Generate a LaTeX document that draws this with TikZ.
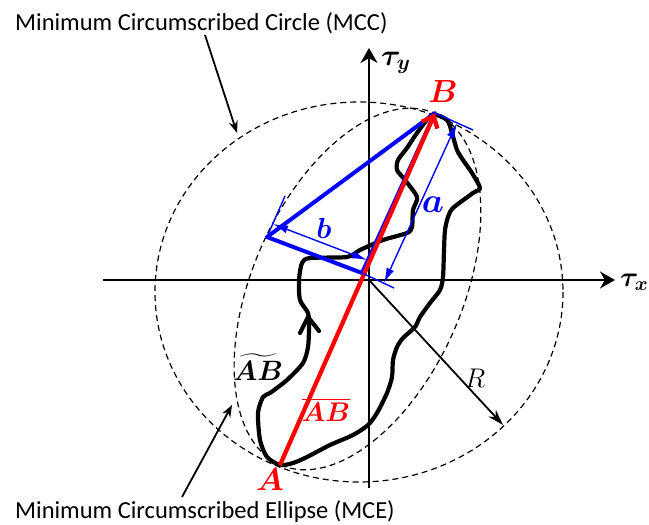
\RequirePackage{fix-cm}
\documentclass[tikz,border=0pt]{standalone}
\usepackage{amsmath}
\usepackage{fontspec}
\newfontfamily\calib{Carlito}
\usetikzlibrary{arrows.meta}
\begin{document}
\begin{tikzpicture}[x=1pt,y=-1pt,
  dashedc/.style={line width=1.2pt, dash pattern=on 6pt off 4pt},
  axis/.style={line width=2.3pt, -{Stealth[length=15pt,width=17pt]}},
  curve/.style={line width=4.2pt, line join=round, line cap=round},
  bluethick/.style={draw=blue, line width=4pt, line join=round},
  dim/.style={draw=blue, line width=1.4pt},
  dimarr/.style={dim, {Latex[length=15pt,width=8pt]}-{Latex[length=15pt,width=8pt]}},
  note/.style={font=\calib\fontsize{24.5}{28}\selectfont, inner sep=0, anchor=base west},
  pointer/.style={line width=1.8pt, -{Stealth[length=12pt,width=9pt]}},
  lbl/.style={inner sep=0}]
\useasboundingbox (0,0) rectangle (649,525);
% key points
\coordinate (O) at (369,280);
\coordinate (xl) at (103,280);
\coordinate (xr) at (615,280);
\coordinate (yb) at (369,488);
\coordinate (yt) at (369,48);
\coordinate (A) at (280,465);
\coordinate (B) at (435,113);
\coordinate (C) at (267,237);
\coordinate (D) at (362,273);
\coordinate (E) at (357.5,289);
\coordinate (Cc) at (359,292);
\coordinate (Rt) at (503,425);
% circle and ellipse
\draw[dashedc] (Cc) ellipse [x radius=204, y radius=190];
\draw[dashedc, rotate around={66.24:(E)}] (E) ellipse [x radius=192, y radius=105];
% axes
\draw[axis] (xl) -- (xr);
\draw[axis] (yb) -- (yt);
% R arrow
\draw[line width=1.8pt, -{Stealth[length=16pt,width=10pt]}] (O) -- (Rt);
% closed curve
\draw[curve] plot[smooth cycle, tension=0.45] coordinates {
 (280,465) (267,457) (260,440) (258,413) (263,397) (270,393) (287,380)
 (303,363) (308,347) (309,327) (308,313) (300,300) (299,280) (302,263)
 (310,258) (347,257) (360,250) (383,240) (407,233) (412,227) (413,210)
 (417,197) (405,180) (397,170) (398,160) (407,148) (417,133) (432,115)
 (447,120) (452,133) (457,150) (463,160) (472,173) (480,188) (473,193)
 (453,208) (448,217) (445,230) (444,250) (443,277) (440,290) (430,303)
 (420,317) (415,327) (403,338) (397,347) (393,360) (392,377) (387,393)
 (377,413) (368,425) (353,435) (330,445) (307,457) (293,463)};
\coordinate (ch0) at (308,317);
\coordinate (ch1) at (300,333);
\coordinate (ch2) at (319,331);
\draw[curve] (ch1) -- (ch0) -- (ch2);
% blue triangle
\draw[bluethick] (B) -- (C) -- (D) -- cycle;
% red chord
\draw[red, line width=4.3pt, -{Straight Barb[length=10pt,width=17pt]}] (A) -- (B);
% dimension lines
\coordinate (Ce) at (285,196);
\coordinate (Be) at (473,130);
\coordinate (De) at (394,288);
\coordinate (a1) at (384,283);
\coordinate (a2) at (457,123);
\coordinate (b1) at (273,224);
\coordinate (b2) at (367,260);
\draw[dim] (C) -- (Ce);
\draw[dim] (B) -- (Be);
\draw[dim] (D) -- (De);
\draw[dimarr] (a1) -- (a2);
\draw[dimarr] (b1) -- (b2);
% labels
\node[lbl, text=red, font=\fontsize{32}{34}\selectfont] (Bl) at (443,92) {$\boldsymbol{B}$};
\node[lbl, text=red, font=\fontsize{32}{34}\selectfont] (Al) at (270,480) {$\boldsymbol{A}$};
\node[lbl, text=blue, font=\fontsize{35}{37}\selectfont] (al) at (433,205) {$\boldsymbol{a}$};
\node[lbl, text=blue, font=\fontsize{29}{31}\selectfont] (bl) at (324,228) {$\boldsymbol{b}$};
\node[lbl, font=\fontsize{28}{30}\selectfont] (arcl) at (258,367) {$\widetilde{\boldsymbol{AB}}$};
\node[lbl, text=red, font=\fontsize{27}{29}\selectfont] (chl) at (326,410) {$\overline{\boldsymbol{AB}}$};
\node[lbl, font=\fontsize{27}{29}\selectfont] (Rl) at (475,378) {$R$};
\node[lbl, anchor=base west, font=\fontsize{30}{32}\selectfont] (ty) at (381,65) {$\boldsymbol{\tau_y}$};
\node[lbl, anchor=base west, font=\fontsize{28}{30}\selectfont] (tx) at (620,286) {$\boldsymbol{\tau_x}$};
% notes
\node[note] (mcc) at (15,30) {Minimum Circumscribed Circle (MCC)};
\node[note] (mce) at (15,518) {Minimum Circumscribed Ellipse (MCE)};
\coordinate (mccs) at (205,35);
\coordinate (mcct) at (237,133);
\coordinate (mces) at (182,497);
\coordinate (mcet) at (232,405);
\draw[pointer] (mccs) -- (mcct);
\draw[pointer] (mces) -- (mcet);
\end{tikzpicture}
\end{document}
